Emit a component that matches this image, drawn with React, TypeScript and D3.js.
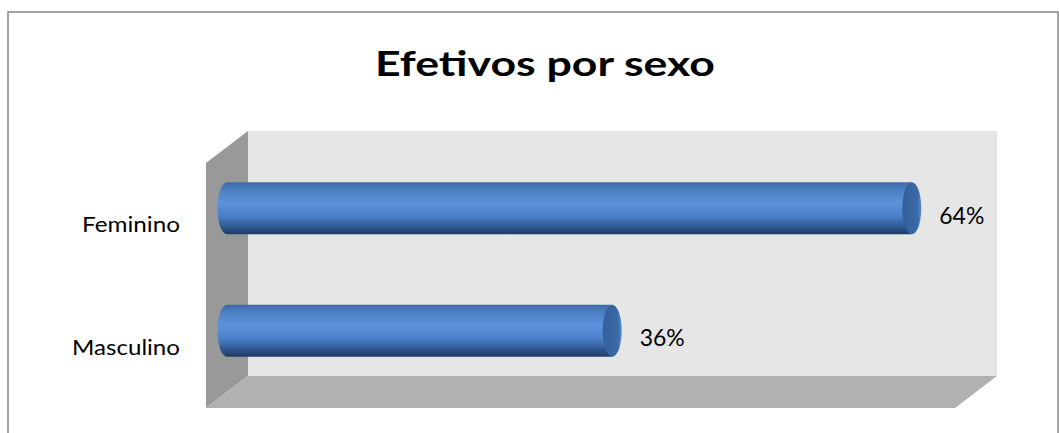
import React from "react";
import * as d3 from "d3";

const title = "Efetivos por sexo";
const categories = ["Feminino", "Masculino"];
const values = [0.64, 0.36];
const xDomain = [0, 0.7];

const W = 1059;
const H = 433;
// back wall (plot plane at rear)
const back = { x0: 248, x1: 997, y0: 131, y1: 376 };
const depth = { dx: -42, dy: 32 };
const FONT = "Lato, 'Open Sans', sans-serif";
const catWidths: Record<string, number> = { Feminino: 98, Masculino: 108 };

export default function App() {
  const x = d3.scaleLinear().domain(xDomain).range([back.x0, back.x1]);
  const y = d3.scalePoint<string>().domain(categories).range([back.y0, back.y1]).padding(0.5);
  const mid = { dx: depth.dx / 2, dy: depth.dy / 2 };
  const barH = 52;
  const rx = 9.5;
  const ry = barH / 2;

  const sidePts = [
    [back.x0, back.y0],
    [back.x0, back.y1],
    [back.x0 + depth.dx, back.y1 + depth.dy],
    [back.x0 + depth.dx, back.y0 + depth.dy],
  ];
  const floorPts = [
    [back.x0, back.y1],
    [back.x1, back.y1],
    [back.x1 + depth.dx, back.y1 + depth.dy],
    [back.x0 + depth.dx, back.y1 + depth.dy],
  ];
  const pts = (p: number[][]) => p.map((d) => d.join(",")).join(" ");

  return (
    <svg
      width={W}
      height={H}
      style={{ position: "absolute", left: 0, top: 0, background: "#fff" }}
    >
      <defs>
        <linearGradient id="cyl" x1="0" y1="0" x2="0" y2="1">
          <stop offset="0" stopColor="#3f6aa6" />
          <stop offset="0.12" stopColor="#4b7cbf" />
          <stop offset="0.4" stopColor="#5c94dc" />
          <stop offset="0.65" stopColor="#4b80c7" />
          <stop offset="0.85" stopColor="#2f5993" />
          <stop offset="1" stopColor="#1e3a62" />
        </linearGradient>
        <linearGradient id="cap" x1="0" y1="0" x2="1" y2="0">
          <stop offset="0" stopColor="#34609a" />
          <stop offset="0.8" stopColor="#3b6aa6" />
          <stop offset="1" stopColor="#5a8ccc" />
        </linearGradient>
      </defs>
      <rect x={8} y={12} width={1050} height={440} fill="#fff" stroke="#878787" strokeWidth={1.5} />
      <text
        x={375}
        y={76}
        textLength={340}
        lengthAdjust="spacingAndGlyphs"
        fontFamily={FONT}
        fontWeight="bold"
        fontSize={34}
        fill="#000"
      >
        {title}
      </text>
      <rect
        x={back.x0}
        y={back.y0}
        width={back.x1 - back.x0}
        height={back.y1 - back.y0}
        fill="#e6e6e6"
      />
      <polygon points={pts(sidePts)} fill="#999999" />
      <polygon points={pts(floorPts)} fill="#b1b1b1" />
      {categories.map((c, i) => {
        const cy = (y(c) as number) + mid.dy;
        const xs = x(0) + mid.dx;
        const xe = x(values[i]) + mid.dx;
        return (
          <g key={c}>
            <path
              d={`M${xs},${cy - ry} A${rx},${ry} 0 0 0 ${xs},${cy + ry} L${xe},${cy + ry} L${xe},${cy - ry} Z`}
              fill="url(#cyl)"
            />
            <ellipse cx={xe} cy={cy} rx={rx} ry={ry} fill="url(#cap)" />
            <text
              x={xe + rx + 18}
              y={cy + 15.5}
              textLength={45}
              lengthAdjust="spacingAndGlyphs"
              fontFamily={FONT}
              fontSize={23}
              fill="#000"
            >
              {d3.format(".0%")(values[i])}
            </text>
            <text
              x={180 - catWidths[c]}
              y={(y(c) as number) + depth.dy + 8}
              textLength={catWidths[c]}
              lengthAdjust="spacingAndGlyphs"
              fontFamily={FONT}
              fontSize={22}
              fill="#000"
            >
              {c}
            </text>
          </g>
        );
      })}
    </svg>
  );
}
